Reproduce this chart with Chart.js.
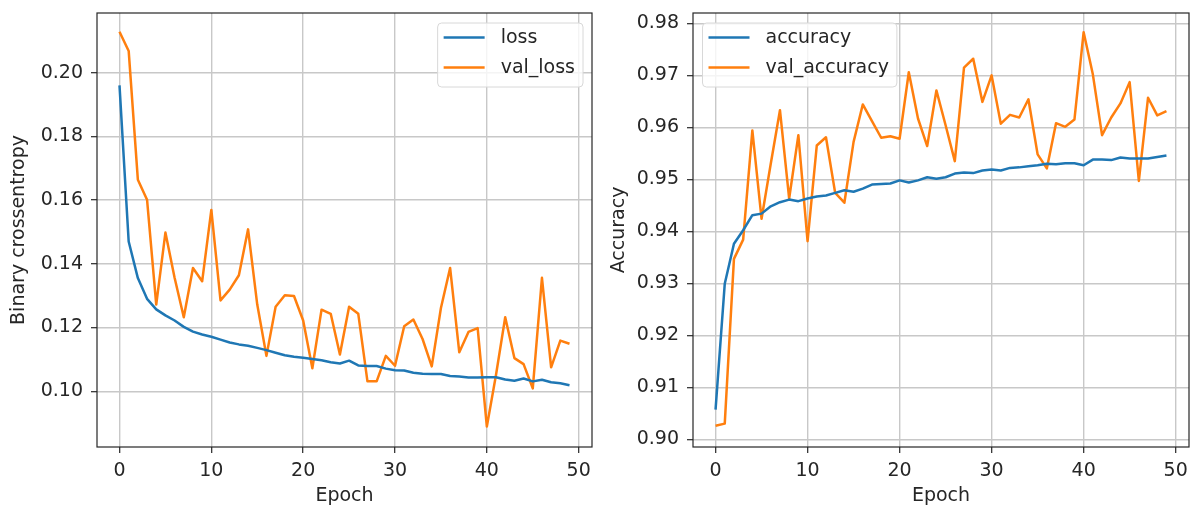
<!DOCTYPE html>
<html>
<head>
<meta charset="utf-8">
<title>Training history</title>
<script src="https://cdn.jsdelivr.net/npm/chart.js@4.4.0/dist/chart.umd.min.js"></script>
<style>
  html, body { margin: 0; padding: 0; background: #fff; }
  #wrap { position: relative; width: 1190px; height: 506px; overflow: hidden; }
  #wrap canvas { position: absolute; top: 0; }
</style>
</head>
<body>
<div id="wrap">
  <canvas id="lossChart" width="600" height="506" style="left:0"></canvas>
  <canvas id="accChart" width="590" height="506" style="left:600px"></canvas>
</div>
<script>
// --- data ---
const loss = [0.196, 0.147, 0.1355, 0.129, 0.1257, 0.1238, 0.1222, 0.1202, 0.1187, 0.1178,
              0.1171, 0.1162, 0.1153, 0.1147, 0.1143, 0.1136, 0.1129, 0.1121, 0.1113, 0.1108,
              0.1105, 0.1101, 0.1097, 0.1091, 0.1087, 0.1096, 0.1081, 0.1079, 0.1079, 0.1071,
              0.1066, 0.1065, 0.1058, 0.1055, 0.1054, 0.1054, 0.1048, 0.1046, 0.1043, 0.1043,
              0.1044, 0.1044, 0.1037, 0.1033, 0.104, 0.1031, 0.1036, 0.1028, 0.1025, 0.1019];
const valLoss = [0.2128, 0.2068, 0.1664, 0.1601, 0.1272, 0.1498, 0.1356, 0.1232, 0.1387, 0.1345,
                 0.1569, 0.1285, 0.1319, 0.1364, 0.1508, 0.1272, 0.1111, 0.1265, 0.1301, 0.1299,
                 0.1222, 0.1072, 0.1256, 0.1243, 0.1115, 0.1265, 0.1243, 0.1031, 0.1031, 0.1111,
                 0.108, 0.1204, 0.1225, 0.1164, 0.1078, 0.1261, 0.1387, 0.1122, 0.1186, 0.1198,
                 0.0889, 0.1052, 0.1232, 0.1104, 0.1085, 0.1009, 0.1356, 0.1075, 0.1159, 0.1149];
const accuracy = [0.9057, 0.9299, 0.9376, 0.9402, 0.9431, 0.9434, 0.9448, 0.9456, 0.9461, 0.9458,
                  0.9463, 0.9467, 0.9469, 0.9474, 0.9479, 0.9476, 0.9482, 0.949, 0.9491, 0.9492,
                  0.9498, 0.9494, 0.9498, 0.9504, 0.9501, 0.9504, 0.9511, 0.9513, 0.9512, 0.9517,
                  0.9519, 0.9517, 0.9522, 0.9523, 0.9525, 0.9527, 0.953, 0.9529, 0.9531, 0.9531,
                  0.9527, 0.9538, 0.9538, 0.9537, 0.9542, 0.954, 0.954, 0.954, 0.9543, 0.9546];
const valAccuracy = [0.9026, 0.903, 0.9347, 0.9384, 0.9594, 0.9424, 0.953, 0.9633, 0.9463, 0.9585,
                     0.9381, 0.9565, 0.9581, 0.9474, 0.9455, 0.9572, 0.9644, 0.9612, 0.958, 0.9583,
                     0.9578, 0.9706, 0.9617, 0.9564, 0.9671, 0.9604, 0.9535, 0.9715, 0.9732, 0.9649,
                     0.97, 0.9607, 0.9624, 0.9619, 0.9654, 0.9548, 0.9521, 0.9608, 0.9601, 0.9615,
                     0.9783, 0.9702, 0.9585, 0.9619, 0.9646, 0.9687, 0.9497, 0.9657, 0.9623, 0.9631];
const epochs = loss.map((_, i) => i);

const epochTicks = [0, 10, 20, 30, 40, 50];
const lossTicks = [0.10, 0.12, 0.14, 0.16, 0.18, 0.20];
const accTicks = [0.90, 0.91, 0.92, 0.93, 0.94, 0.95, 0.96, 0.97, 0.98];

const BLUE = '#1f77b4';
const ORANGE = '#ff7f0e';
const INK = '#262626';
const FONT = 'DejaVu Sans';

Chart.defaults.font.family = FONT;
Chart.defaults.font.size = 19;
Chart.defaults.color = INK;

// axes frame on all four sides, like matplotlib spines
const framePlugin = {
    id: 'frame',
    afterDraw(chart) {
        const a = chart.chartArea, ctx = chart.ctx;
        ctx.save();
        ctx.strokeStyle = INK;
        ctx.lineWidth = 1.2;
        ctx.strokeRect(a.left, a.top, a.right - a.left, a.bottom - a.top);
        ctx.restore();
    }
};

// legend box inside the plot area
const boxLegend = {
    id: 'boxLegend',
    afterDraw(chart, args, opts) {
        const a = chart.chartArea, ctx = chart.ctx;
        const sets = chart.data.datasets;
        ctx.save();
        ctx.font = `19px "${FONT}"`;
        const textW = Math.max(...sets.map(d => ctx.measureText(d.label).width));
        const w = 63 + textW + 8, h = 64;
        const x = opts.side === 'right' ? a.right - 9 - w : a.left + 9.5;
        const y = a.top + 10;
        ctx.beginPath();
        ctx.roundRect(x, y, w, h, 4);
        ctx.fillStyle = 'rgba(255,255,255,0.8)';
        ctx.fill();
        ctx.strokeStyle = '#d8d8d8';
        ctx.lineWidth = 1;
        ctx.stroke();
        sets.forEach((d, i) => {
            const ly = y + 14.5 + i * 30;
            ctx.beginPath();
            ctx.moveTo(x + 6, ly);
            ctx.lineTo(x + 47, ly);
            ctx.strokeStyle = d.borderColor;
            ctx.lineWidth = 2.5;
            ctx.stroke();
            ctx.fillStyle = INK;
            ctx.textBaseline = 'middle';
            ctx.fillText(d.label, x + 63, ly + 1);
        });
        ctx.restore();
    }
};

function makeChart(id, series, yTicks, yMin, yMax, yTitle, yWidth, padRight, legendSide) {
    return new Chart(document.getElementById(id), {
        type: 'line',
        data: {
            labels: epochs,
            datasets: series.map(s => ({
                label: s.label,
                data: s.data,
                borderColor: s.color,
                backgroundColor: s.color,
                borderWidth: 2.5,
                borderJoinStyle: 'round',
                pointRadius: 0,
                tension: 0,
                fill: false
            }))
        },
        options: {
            responsive: false,
            animation: false,
            devicePixelRatio: 1,
            layout: { padding: { top: 13, right: padRight, left: 0, bottom: 0 } },
            plugins: {
                legend: { display: false },
                tooltip: { enabled: false },
                boxLegend: { side: legendSide }
            },
            scales: {
                x: {
                    type: 'linear',
                    min: -2.45,
                    max: 51.45,
                    afterBuildTicks: sc => { sc.ticks = epochTicks.map(v => ({ value: v })); },
                    afterFit: sc => { sc.height = 59; sc.paddingLeft = 0; sc.paddingRight = 0; },
                    border: { display: false },
                    grid: { color: '#c8c8c8', lineWidth: 1.4, tickColor: INK, tickWidth: 1.2, tickLength: 6 },
                    ticks: { padding: 7, maxRotation: 0, callback: v => String(v) },
                    title: { display: true, text: 'Epoch', padding: { top: 0, bottom: -1 } }
                },
                y: {
                    min: yMin,
                    max: yMax,
                    afterBuildTicks: sc => { sc.ticks = yTicks.map(v => ({ value: v })); },
                    afterFit: sc => { sc.width = yWidth; sc.paddingTop = 0; sc.paddingBottom = 0; },
                    border: { display: false },
                    grid: { color: '#c8c8c8', lineWidth: 1.4, tickColor: INK, tickWidth: 1.2, tickLength: 6 },
                    ticks: { padding: 8, callback: v => Number(v).toFixed(2) },
                    title: { display: true, text: yTitle, padding: { top: 8, bottom: 0 } }
                }
            }
        },
        plugins: [framePlugin, boxLegend]
    });
}

makeChart('lossChart',
    [{ label: 'loss', data: loss, color: BLUE }, { label: 'val_loss', data: valLoss, color: ORANGE }],
    lossTicks, 0.0825, 0.2187, 'Binary crossentropy', 97, 8, 'right');

makeChart('accChart',
    [{ label: 'accuracy', data: accuracy, color: BLUE }, { label: 'val_accuracy', data: valAccuracy, color: ORANGE }],
    accTicks, 0.8985, 0.982, 'Accuracy', 93, 1, 'left');
</script>
</body>
</html>
